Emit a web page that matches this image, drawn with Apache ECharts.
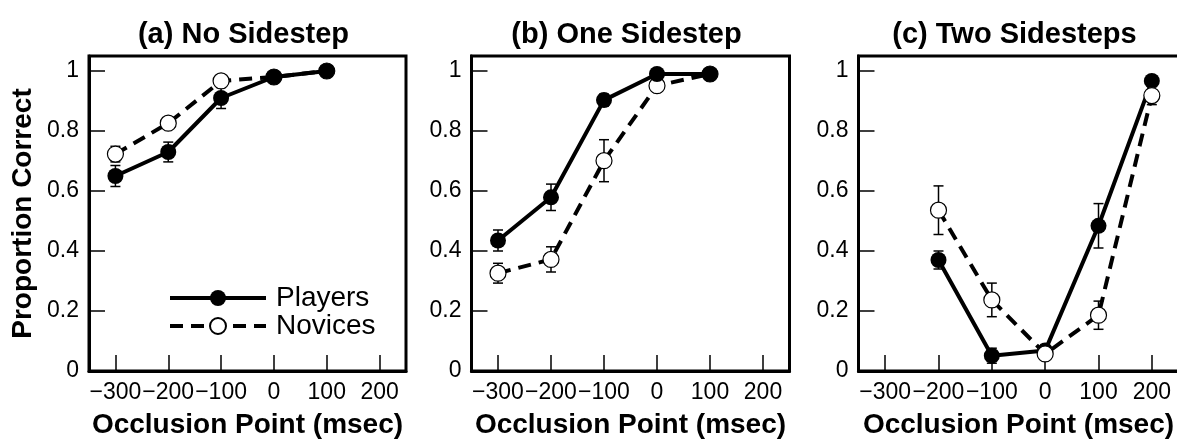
<!DOCTYPE html>
<html>
<head>
<meta charset="utf-8">
<script src="https://cdn.jsdelivr.net/npm/echarts@6/dist/echarts.min.js"></script>
<style>
html,body{margin:0;padding:0;background:#fff;}
#chart{width:1177px;height:441px;}
</style>
</head>
<body>
<div id="chart"></div>
<script>
// ---- data ----
const xTicks = [-300, -200, -100, 0, 100, 200];
const yTicks = [0, 0.2, 0.4, 0.6, 0.8, 1];
const panelTitles = ['(a) No Sidestep', '(b) One Sidestep', '(c) Two Sidesteps'];
const xAxisName = 'Occlusion Point (msec)';
const yAxisName = 'Proportion Correct';
const seriesNames = ['Players', 'Novices'];

const occlusionA = [-300, -200, -100, 0, 100];
const playersA = [0.65, 0.73, 0.91, 0.98, 1.0];
const playersAErr = [0.035, 0.033, 0.035, 0.01, 0];
const novicesA = [0.723, 0.826, 0.967, 0.98, 1.0];
const novicesAErr = [0.026, 0.015, 0.012, 0, 0];

const occlusionB = [-300, -200, -100, 0, 100];
const playersB = [0.435, 0.579, 0.903, 0.99, 0.99];
const playersBErr = [0.035, 0.044, 0.02, 0.01, 0];
const novicesB = [0.326, 0.372, 0.701, 0.951, 0.99];
const novicesBErr = [0.033, 0.042, 0.07, 0.02, 0];

const occlusionC = [-200, -100, 0, 100, 200];
const playersC = [0.37, 0.051, 0.068, 0.484, 0.967];
const playersCErr = [0.03, 0.025, 0.02, 0.074, 0.01];
const novicesC = [0.536, 0.237, 0.057, 0.186, 0.918];
const novicesCErr = [0.081, 0.056, 0.015, 0.047, 0.03];

// ---- build ----
const panels = [
  {x: occlusionA, p: playersA, pe: playersAErr, n: novicesA, ne: novicesAErr},
  {x: occlusionB, p: playersB, pe: playersBErr, n: novicesB, ne: novicesBErr},
  {x: occlusionC, p: playersC, pe: playersCErr, n: novicesC, ne: novicesCErr}
];
const grids = [
  {left: 89, top: 56, width: 317, height: 315},
  {left: 471.5, top: 56, width: 318, height: 315},
  {left: 858.5, top: 56, width: 320, height: 315}
];
const FONT = '"Liberation Sans", Arial, sans-serif';

function pairs(xs, ys) { return xs.map((x, i) => [x, ys[i]]); }
function errData(xs, ys, es) {
  const out = [];
  xs.forEach((x, i) => { if (es[i] > 0) out.push([x, ys[i] - es[i], ys[i] + es[i]]); });
  return out;
}
function renderErr(params, api) {
  const x = api.value(0);
  const lo = api.coord([x, api.value(1)]);
  const hi = api.coord([x, api.value(2)]);
  const w = 5;
  const st = {stroke: '#000', lineWidth: 1.5};
  return {type: 'group', children: [
    {type: 'line', shape: {x1: lo[0], y1: lo[1], x2: hi[0], y2: hi[1]}, style: st},
    {type: 'line', shape: {x1: lo[0] - w, y1: lo[1], x2: lo[0] + w, y2: lo[1]}, style: st},
    {type: 'line', shape: {x1: hi[0] - w, y1: hi[1], x2: hi[0] + w, y2: hi[1]}, style: st}
  ]};
}
function minusFmt(v) { return v < 0 ? '\u2212' + Math.abs(v) : String(v); }

const option = {
  animation: false,
  backgroundColor: '#fff',
  title: grids.map((g, i) => ({
    text: panelTitles[i],
    left: g.left + g.width / 2 - 9,
    textAlign: 'center',
    top: 15,
    textStyle: {fontFamily: FONT, fontSize: 29, fontWeight: 'bold', color: '#000'}
  })),
  legend: {
    data: seriesNames,
    orient: 'vertical',
    left: 168,
    top: 284,
    padding: 0,
    itemWidth: 96,
    itemHeight: 20,
    itemGap: 0,
    selectedMode: false,
    lineStyle: {width: 4},
    textStyle: {fontFamily: FONT, fontSize: 28, color: '#000', lineHeight: 26, padding: [0, 0, 0, 5]}
  },
  grid: grids.map(g => Object.assign({show: true, borderColor: '#000', borderWidth: 3,
    containLabel: false, outerBoundsMode: 'none'}, g)),
  xAxis: grids.map((g, i) => ({
    type: 'value', gridIndex: i, min: -350, max: 250, position: 'bottom',
    name: xAxisName, nameLocation: 'middle', nameGap: 40,
    nameTextStyle: {fontFamily: FONT, fontSize: 28, fontWeight: 'bold', color: '#000'},
    axisLine: {show: true, onZero: false, lineStyle: {color: '#000', width: 3}},
    splitLine: {show: false},
    axisTick: {show: true, inside: true, length: 16, customValues: xTicks, lineStyle: {color: '#000', width: 1.5}},
    axisLabel: {customValues: xTicks, formatter: minusFmt, margin: 10, fontFamily: FONT, fontSize: 23, color: '#000'}
  })),
  yAxis: grids.map((g, i) => ({
    type: 'value', gridIndex: i, min: 0, max: 1.05, position: 'left',
    name: i === 0 ? yAxisName : '', nameLocation: 'middle', nameGap: 52,
    nameTextStyle: {fontFamily: FONT, fontSize: 28, fontWeight: 'bold', color: '#000'},
    axisLine: {show: true, onZero: false, lineStyle: {color: '#000', width: 3}},
    splitLine: {show: false},
    axisTick: {show: true, inside: true, length: 16, customValues: yTicks.slice(1), lineStyle: {color: '#000', width: 1.5}},
    axisLabel: {customValues: yTicks, margin: 10, fontFamily: FONT, fontSize: 23, color: '#000',
      formatter: v => (v === 0 || v === 1) ? String(v) : v.toFixed(1)}
  })),
  series: []
};

panels.forEach((pn, i) => {
  option.series.push({
    type: 'custom', xAxisIndex: i, yAxisIndex: i, z: 1, silent: true,
    renderItem: renderErr, data: errData(pn.x, pn.n, pn.ne)
  });
  option.series.push({
    type: 'custom', xAxisIndex: i, yAxisIndex: i, z: 1, silent: true,
    renderItem: renderErr, data: errData(pn.x, pn.p, pn.pe)
  });
  option.series.push({
    name: seriesNames[1], type: 'line', xAxisIndex: i, yAxisIndex: i, z: i === 2 ? 5 : 3,
    data: pairs(pn.x, pn.n),
    symbol: 'circle', symbolSize: 16,
    lineStyle: {color: '#000', width: 4, type: [13, 8]},
    itemStyle: {color: '#fff', borderColor: '#000', borderWidth: 1.2}
  });
  option.series.push({
    name: seriesNames[0], type: 'line', xAxisIndex: i, yAxisIndex: i, z: 4,
    data: pairs(pn.x, pn.p),
    symbol: 'circle', symbolSize: 16,
    lineStyle: {color: '#000', width: 4},
    itemStyle: {color: '#000', borderColor: '#000', borderWidth: 0}
  });
});

const chart = echarts.init(document.getElementById('chart'), null, {renderer: 'canvas'});
chart.setOption(option);
</script>
</body>
</html>
